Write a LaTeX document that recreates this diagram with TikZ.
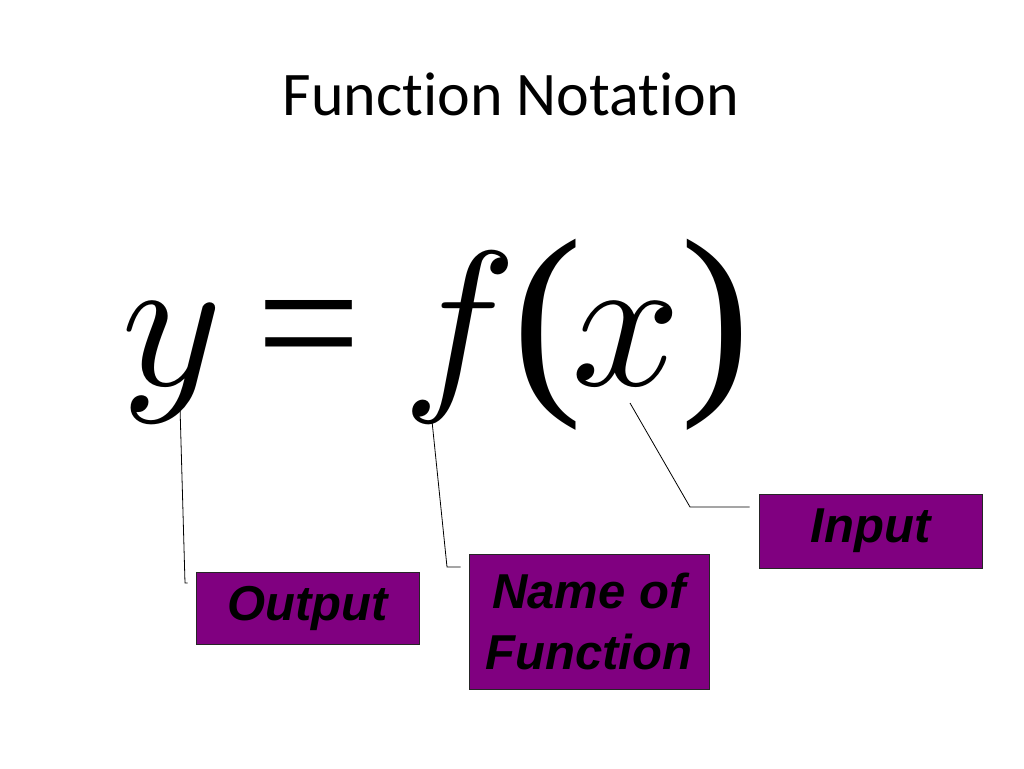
\documentclass[tikz,border=0pt]{standalone}
\usepackage{fontspec}
\usetikzlibrary{calc}
\newfontfamily\titlefont{Carlito}[Ligatures = NoCommon]
\newfontfamily\eqfont{Liberation Serif}
\newfontfamily\labelfont{Liberation Sans}
\newcommand{\bigsym}[1]{\scalebox{19.2}{$#1$}}
\definecolor{fnpurple}{HTML}{800080}
\begin{document}
\begin{tikzpicture}
[x = 1pt, y = -1pt, every node/.style = {inner sep = 0pt},
 eqsym/.style = {anchor = base west},
 eqparen/.style = {anchor = base west, font = \eqfont\fontsize{211}{211}\selectfont},
 tagbox/.style = {draw = black!85, line width = 0.8pt, fill = fnpurple, align = center,
                  font = \labelfont\bfseries\itshape\fontsize{49}{61}\selectfont},
 callout/.style = {draw, line width = 0.8pt}]
\useasboundingbox (0,0) rectangle (1024,768);
\node[anchor = base, font = \titlefont\fontsize{62}{62}\selectfont] (title) at (511,115) {Function Notation};
\node[eqsym] (ysym) at (121,385) {\bigsym{y}};
\node[eqsym, font = \eqfont\fontsize{186}{186}\selectfont] (eqsign) at (256,385) {=};
\node[eqsym] (fsym) at (402,385) {\bigsym{f}};
\node[eqparen] (lparen) at (512,385) {(};
\node[eqsym] (xsym) at (571,385) {\bigsym{x}};
\node[eqparen] (rparen) at (680,385) {)};
\node[tagbox, minimum width = 223pt, minimum height = 72pt] (outbox) at (307.5,608) {Output};
\node[tagbox, minimum width = 240pt, minimum height = 135pt] (namebox) at (589,621.5) {Name of\\Function};
\node[tagbox, minimum width = 223pt, minimum height = 74pt] (inbox) at (870.5,531) {Input};
\coordinate (ytip) at (180,407);
\coordinate (ybend) at (185,583);
\coordinate (ftip) at (432,421);
\coordinate (fbend) at (447,567);
\coordinate (xtip) at (630,403);
\coordinate (xbend) at (690,507);
\draw[callout] (ytip) -- (ybend) -- ($(ybend -| outbox.west) + (-8,0)$);
\draw[callout] (ftip) -- (fbend) -- ($(fbend -| namebox.west) + (-8,0)$);
\draw[callout] (xtip) -- (xbend) -- ($(xbend -| inbox.west) + (-9,0)$);
\end{tikzpicture}
\end{document}
